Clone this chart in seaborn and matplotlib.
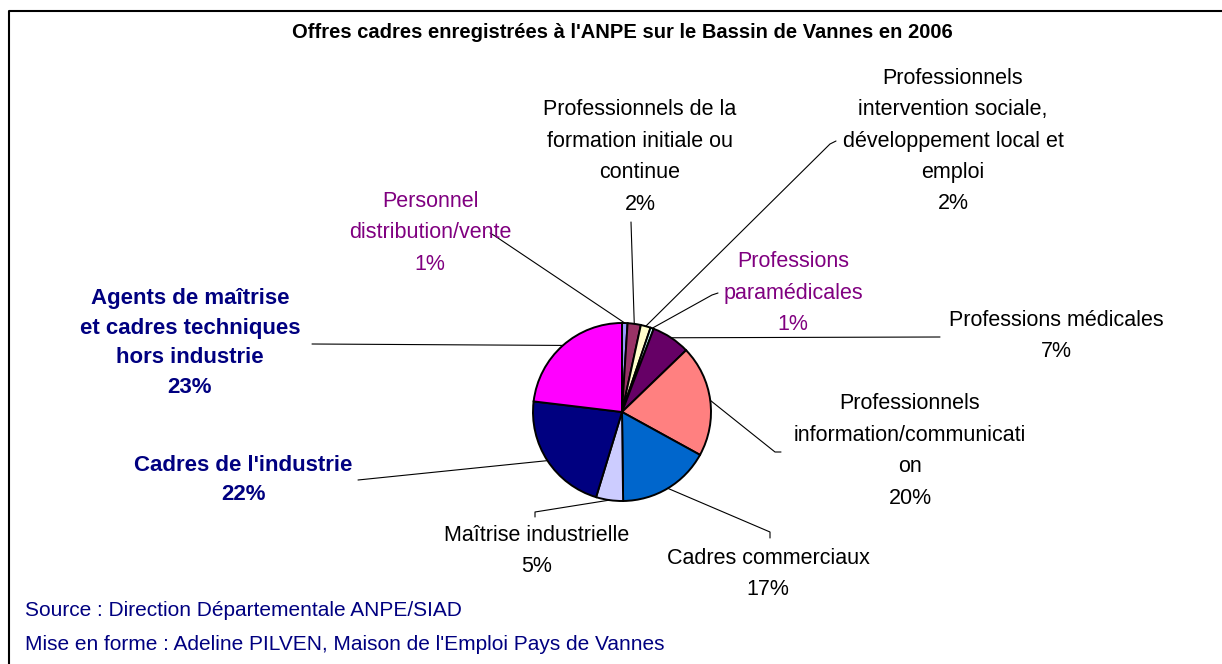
import matplotlib
matplotlib.use("Agg")
import matplotlib.pyplot as plt
import seaborn as sns
import numpy as np

# données (parts en %)
categories = [
    "Personnel\ndistribution/vente",
    "Professionnels de la\nformation initiale ou\ncontinue",
    "Professionnels\nintervention sociale,\ndéveloppement local et\nemploi",
    "Professions\nparamédicales",
    "Professions médicales",
    "Professionnels\ninformation/communicati\non",
    "Cadres commerciaux",
    "Maîtrise industrielle",
    "Cadres de l'industrie",
    "Agents de maîtrise\net cadres techniques\nhors industrie",
]
valeurs = [1.0, 2.4, 1.8, 0.6, 7.0, 20.2, 16.8, 4.9, 22.2, 23.1]
pct_labels = ["1%", "2%", "2%", "1%", "7%", "20%", "17%", "5%", "22%", "23%"]

couleurs = ["#9999FF", "#993366", "#FFFFCC", "#CCFFFF", "#660066",
            "#FF8080", "#0066CC", "#CCCCFF", "#000080", "#FF00FF"]

W, H = 1222, 664

# mise en page (pixels de l'image, y vers le bas)
pos_texte = [(430, 233), (640, 157), (953, 141), (793, 293), (1056, 336),
             (910, 451), (768, 574), (537, 551), (243, 480), (190, 343)]
fin_ligne = [[(495, 236), (490, 233)],
             [(631, 222)],
             [(830, 144), (836, 141)],
             [(712, 295), (718, 293)],
             [(940, 337)],
             [(775, 452), (781, 452)],
             [(770, 532), (770, 538)],
             [(535, 512), (535, 517)],
             [(358, 480)],
             [(312, 344)]]
couleur_texte = ["#800080", "black", "black", "#800080", "black",
                 "black", "black", "black", "#000080", "#000080"]
gras = [False] * 8 + [True, True]

sns.set_theme(style="white")
plt.rcParams["font.family"] = ["Liberation Sans", "DejaVu Sans"]

fig = plt.figure(figsize=(W / 100, H / 100), dpi=100)
ax = fig.add_axes([0, 0, 1, 1])

cx, cy, r = 622, H - 412, 89
wedges, _ = ax.pie(valeurs, colors=couleurs, startangle=90, counterclock=False,
                   center=(cx, cy), radius=r, frame=True,
                   wedgeprops=dict(edgecolor="black", linewidth=1.4))
ax.set_xlim(0, W)
ax.set_ylim(0, H)
ax.set_aspect("equal")
ax.axis("off")

for i, w in enumerate(wedges):
    ang = np.deg2rad((w.theta1 + w.theta2) / 2)
    xs = [cx + r * np.cos(ang)] + [p[0] for p in fin_ligne[i]]
    ys = [cy + r * np.sin(ang)] + [H - p[1] for p in fin_ligne[i]]
    ax.plot(xs, ys, color="black", lw=0.8, zorder=1)
    tx, ty = pos_texte[i]
    if gras[i]:
        fs, ls, fw = 16, 1.56, "bold"
    else:
        fs, ls, fw = 15.5, 1.65, "normal"
    ax.text(tx, H - ty, categories[i] + "\n" + pct_labels[i],
            ha="center", va="center", fontsize=fs, linespacing=ls,
            color=couleur_texte[i], fontweight=fw)

ax.text(622, H - 32, "Offres cadres enregistrées à l'ANPE sur le Bassin de Vannes en 2006",
        ha="center", va="center", fontsize=14.5, fontweight="bold", color="black")
ax.text(25, H - 611, "Source : Direction Départementale ANPE/SIAD",
        ha="left", va="center", fontsize=15, color="#000080")
ax.text(25, H - 645, "Mise en forme : Adeline PILVEN, Maison de l'Emploi Pays de Vannes",
        ha="left", va="center", fontsize=15, color="#000080")

# cadre
ax.plot([9, 9, W + 5], [-5, H - 11, H - 11], color="black", lw=1.5, clip_on=False)

fig.savefig("out.png", dpi=100)
